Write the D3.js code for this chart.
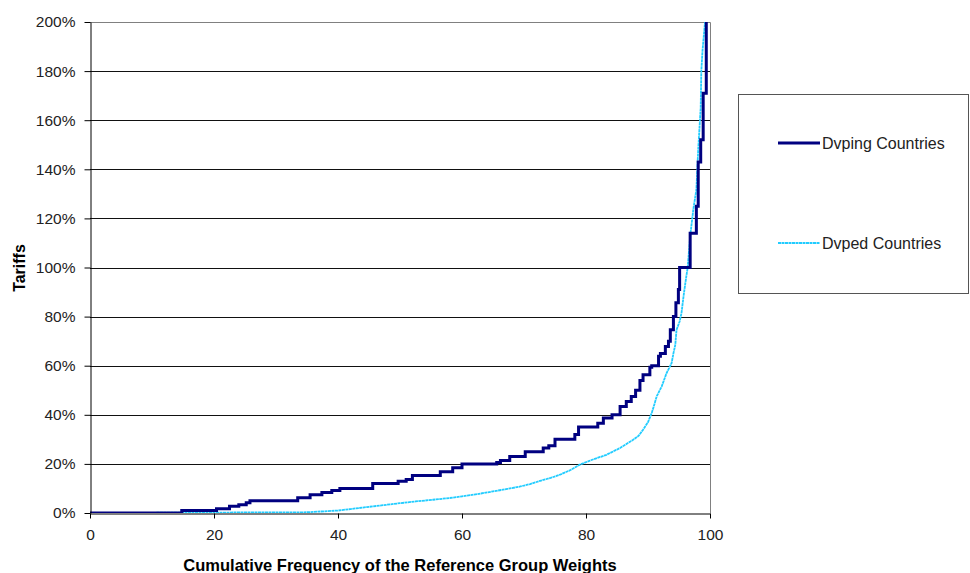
<!DOCTYPE html>
<html lang="en">
<head>
<meta charset="UTF-8">
<title>Tariffs cumulative frequency</title>
<script src="https://cdn.jsdelivr.net/npm/d3@7"></script>
<style>
  body { margin: 0; background: #fff; }
  svg { display: block; font-family: "Liberation Sans", Arial, sans-serif; }
</style>
</head>
<body>
<svg id="chart" width="970" height="573"></svg>
<script>
// cumulative frequency (x) vs tariff % (y)
var dvpingX = [0, 14.8, 20.4, 22.5, 24, 25.2, 25.8, 33.5, 35.5, 37.4, 39, 40.3, 45.6, 49.7, 51, 52, 56.5, 58.5, 60,
  65.6, 66.2, 67.7, 70.2, 73.1, 74, 75, 78.2, 78.8, 81.9, 82.8, 84.2, 85.5, 86.5, 87.3, 88, 88.7, 89.2, 90.3, 90.6,
  91.7, 92, 92.8, 93.3, 93.6, 94.1, 94.5, 94.9, 95.1, 96.8, 97.8, 98.1, 98.5, 98.9, 99.4];
var dvpingY = [0, 1, 1.7, 2.7, 3.4, 4.2, 5, 6.2, 7.4, 8.4, 9.2, 10, 12, 12.9, 13.6, 15.3, 16.8, 18.4, 20,
  20.6, 21.4, 23, 25, 26.5, 27.4, 30, 32, 35, 36.6, 38.7, 40, 43.4, 45.4, 47.5, 50, 54, 56.3, 59.4, 60,
  63.8, 65, 67.8, 70, 74.6, 80, 85.6, 91, 100, 114, 125, 143, 152, 171, 210];

var dvpedX = [0, 35, 40, 42, 44.6, 47, 50, 52.5, 55.3, 58, 60, 62.5, 65, 67.3, 69.4, 71, 72.6, 74.3, 75.8, 77.5,
  79, 81, 83.3, 85.5, 87.6, 88.5, 89.2, 90, 90.6, 91, 91.4, 92.2, 93, 93.8, 94.1, 94.4, 94.6, 95.1, 95.4, 95.8,
  96.1, 96.4, 96.8, 97.3, 97.8, 98.1, 98.5, 98.6, 98.8, 99.2, 99.3];
var dvpedY = [0, 0.3, 1, 1.6, 2.4, 3.1, 4, 4.7, 5.4, 6.1, 6.8, 7.7, 8.8, 9.8, 10.8, 11.8, 13.1, 14.3, 15.6, 17.5,
  19.7, 21.7, 23.7, 26.5, 29.8, 31.5, 33.9, 37, 40.7, 44, 47.5, 51.5, 57, 61, 65, 68.5, 74.6, 78, 81.4, 89.6,
  95, 100, 112.6, 123.5, 131.6, 148, 165, 180, 188.6, 200, 210];

var xTicks = [0, 20, 40, 60, 80, 100];
var yTicks = [0, 20, 40, 60, 80, 100, 120, 140, 160, 180, 200];
var seriesNames = ["Dvping Countries", "Dvped Countries"];
var seriesColors = ["#000080", "#22CCFF"];

var svg = d3.select("#chart");
var plotLeft = 90, plotRight = 710, plotTop = 22, plotBottom = 513;

var x = d3.scaleLinear().domain([0, 100]).range([plotLeft, plotRight]);
var y = d3.scaleLinear().domain([0, 200]).range([plotBottom, plotTop]);

// gridlines
svg.append("g")
  .selectAll("line")
  .data(yTicks.slice(1, -1))
  .enter().append("line")
  .attr("x1", plotLeft).attr("x2", plotRight)
  .attr("y1", function(d) { return Math.round(y(d)) + 0.5; })
  .attr("y2", function(d) { return Math.round(y(d)) + 0.5; })
  .attr("stroke", "#111")
  .attr("stroke-width", 1);

// plot border top/right
svg.append("path")
  .attr("d", "M" + plotLeft + "," + (plotTop + 0.5) + "H" + (plotRight + 0.5) + "V" + plotBottom)
  .attr("fill", "none")
  .attr("stroke", "#808080");

// clip for lines
svg.append("clipPath").attr("id", "plotclip")
  .append("rect").attr("x", plotLeft).attr("y", plotTop)
  .attr("width", plotRight - plotLeft).attr("height", plotBottom - plotTop);

var stepLine = d3.line()
  .x(function(d) { return x(d[0]); })
  .y(function(d) { return y(d[1]); })
  .curve(d3.curveStepAfter);

// the light series is made of very fine steps, so it reads as a curve
var fineLine = d3.line()
  .x(function(d) { return x(d[0]); })
  .y(function(d) { return y(d[1]); });

var lines = svg.append("g").attr("clip-path", "url(#plotclip)");

lines.append("path")
  .datum(d3.zip(dvpedX, dvpedY))
  .attr("d", fineLine)
  .attr("fill", "none")
  .attr("stroke", seriesColors[1])
  .attr("stroke-width", 1.8)
  .attr("stroke-dasharray", "3,0.5");

lines.append("path")
  .datum(d3.zip(dvpingX, dvpingY))
  .attr("d", stepLine)
  .attr("fill", "none")
  .attr("stroke", seriesColors[0])
  .attr("stroke-width", 3);

// axes
var xAxis = svg.append("g")
  .attr("transform", "translate(0," + (plotBottom + 0.5) + ")")
  .call(d3.axisBottom(x).tickValues(xTicks).tickSize(5).tickPadding(10).tickSizeOuter(0));
var yAxis = svg.append("g")
  .attr("transform", "translate(" + (plotLeft + 0.5) + ",0)")
  .call(d3.axisLeft(y).tickValues(yTicks).tickSize(6).tickPadding(9).tickSizeOuter(0)
    .tickFormat(function(d) { return d + "%"; }));

[xAxis, yAxis].forEach(function(a) {
  a.selectAll("text").attr("font-size", 15.5).attr("fill", "#222").attr("font-family", "Liberation Sans, Arial, sans-serif");
  a.select(".domain").attr("stroke", "#000");
  a.selectAll(".tick line").attr("stroke", "#000");
});

// axis titles
svg.append("text")
  .attr("x", (plotLeft + plotRight) / 2)
  .attr("y", 571)
  .attr("text-anchor", "middle")
  .attr("font-size", 16.5)
  .attr("font-weight", "bold")
  .text("Cumulative Frequency of the Reference Group Weights");

svg.append("text")
  .attr("transform", "translate(25,268) rotate(-90)")
  .attr("text-anchor", "middle")
  .attr("font-size", 16)
  .attr("font-weight", "bold")
  .text("Tariffs");

// legend
var legend = svg.append("g");
legend.append("rect")
  .attr("x", 738.5).attr("y", 94.5).attr("width", 230).attr("height", 199)
  .attr("fill", "#fff").attr("stroke", "#555");

var legendY = [143, 243];
seriesNames.forEach(function(name, i) {
  legend.append("line")
    .attr("x1", 778).attr("x2", 820)
    .attr("y1", legendY[i]).attr("y2", legendY[i])
    .attr("stroke", seriesColors[i])
    .attr("stroke-width", i === 0 ? 3 : 1.8)
    .attr("stroke-dasharray", i === 0 ? null : "3,0.5");
  legend.append("text")
    .attr("x", 822).attr("y", legendY[i] + 6)
    .attr("font-size", 16)
    .attr("fill", "#222")
    .text(name);
});
</script>
</body>
</html>
